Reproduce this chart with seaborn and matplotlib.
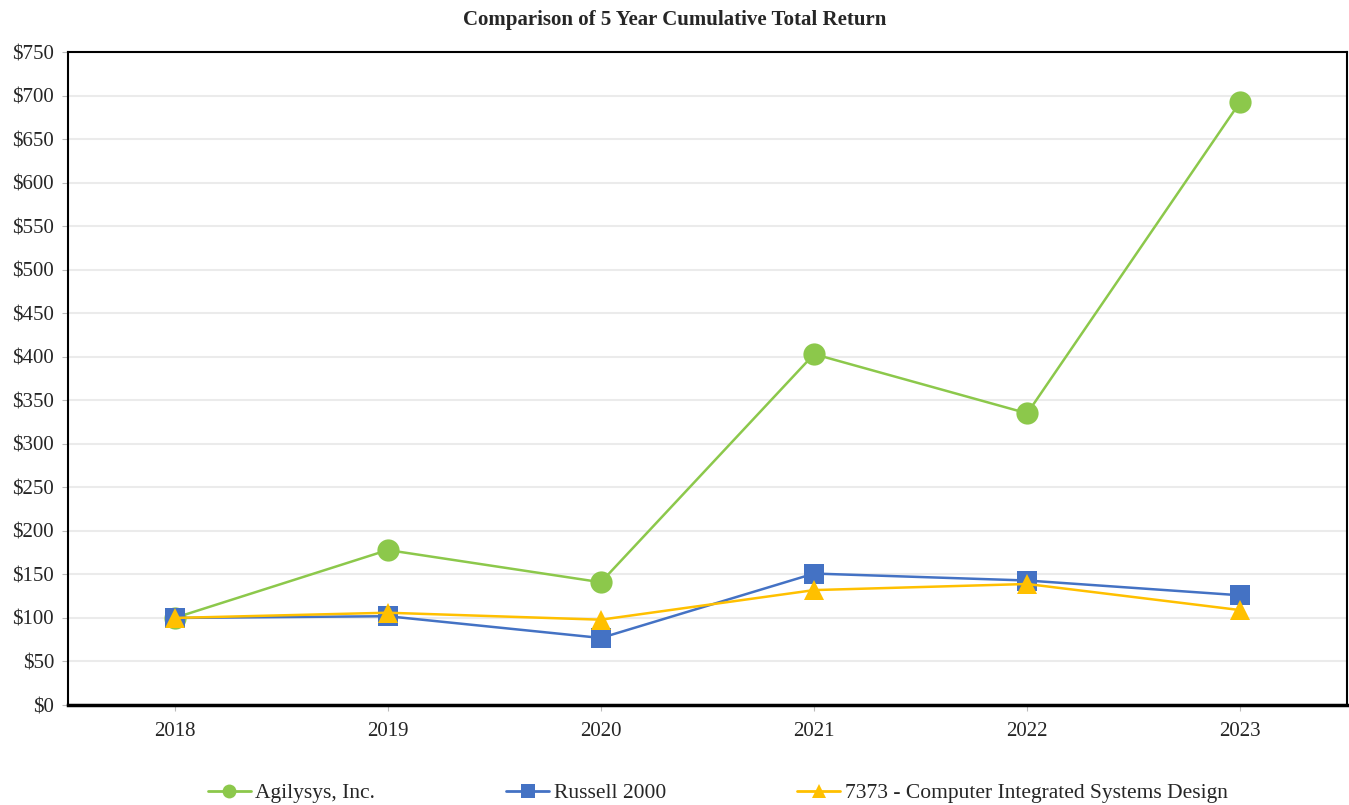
import pandas as pd
import numpy as np
import matplotlib.pyplot as plt
import seaborn as sns

# values
years = ["2018", "2019", "2020", "2021", "2022", "2023"]
agilysys = [100, 178, 141, 403, 335, 693]
russell = [100, 102, 77, 151, 143, 126]
sic7373 = [100, 106, 98, 132, 139, 109]
series_names = ["Agilysys, Inc.", "Russell 2000", "7373 - Computer Integrated Systems Design"]
y_ticks = list(range(0, 751, 50))

data = pd.DataFrame({
    "Year": years * 3,
    "Value": agilysys + russell + sic7373,
    "Series": [series_names[0]] * 6 + [series_names[1]] * 6 + [series_names[2]] * 6,
})

sns.set_style("white")
plt.rcParams["font.family"] = ["Liberation Serif", "DejaVu Serif"]

fig = plt.figure(figsize=(13.49, 8.05), dpi=100)
ax = fig.add_axes([0.0504, 0.1242, 0.9481, 0.8112])

colors = {series_names[0]: "#8cc84b", series_names[1]: "#4472c4", series_names[2]: "#ffc000"}
markers = {series_names[0]: "o", series_names[1]: "s", series_names[2]: "^"}
msizes = [16, 14, 15]

sns.lineplot(data=data, x="Year", y="Value", hue="Series", style="Series",
             palette=colors, markers=markers, dashes=False, sort=False,
             linewidth=1.8, markersize=16, markeredgewidth=0, ax=ax, legend=False)
for line, ms in zip(ax.lines, msizes):
    line.set_markersize(ms)

ax.set_xlim(-0.5, 5.5)
ax.set_ylim(0, 750)
ax.set_yticks(y_ticks)
ax.set_yticklabels([f"${v}" for v in y_ticks])
ax.set_xlabel("")
ax.set_ylabel("")
ax.yaxis.grid(True, color="#ebebeb", linewidth=1.5)
ax.set_axisbelow(True)
for side in ["left", "top", "right", "bottom"]:
    ax.spines[side].set_visible(True)
    ax.spines[side].set_color("black")
    ax.spines[side].set_linewidth(1.5)
ax.spines["bottom"].set_linewidth(2.5)
ax.tick_params(axis="both", labelsize=15, length=4, color="#bbbbbb",
               left=True, bottom=True, direction="out")
ax.tick_params(axis="y", pad=6)
ax.tick_params(axis="x", pad=8)

fig.suptitle("Comparison of 5 Year Cumulative Total Return", y=0.988,
             fontsize=15, fontweight="bold")

handles = [plt.Line2D([], [], color=colors[n], marker=markers[n], markersize=10,
                      markeredgewidth=0, linewidth=2) for n in series_names]
fig.legend(handles, series_names, loc="lower center", bbox_to_anchor=(0.532, -0.022),
           ncol=3, frameon=False, fontsize=15.5, columnspacing=6.1, handlelength=2.0,
           handletextpad=0.2)

fig.savefig("out.png", dpi=100)
